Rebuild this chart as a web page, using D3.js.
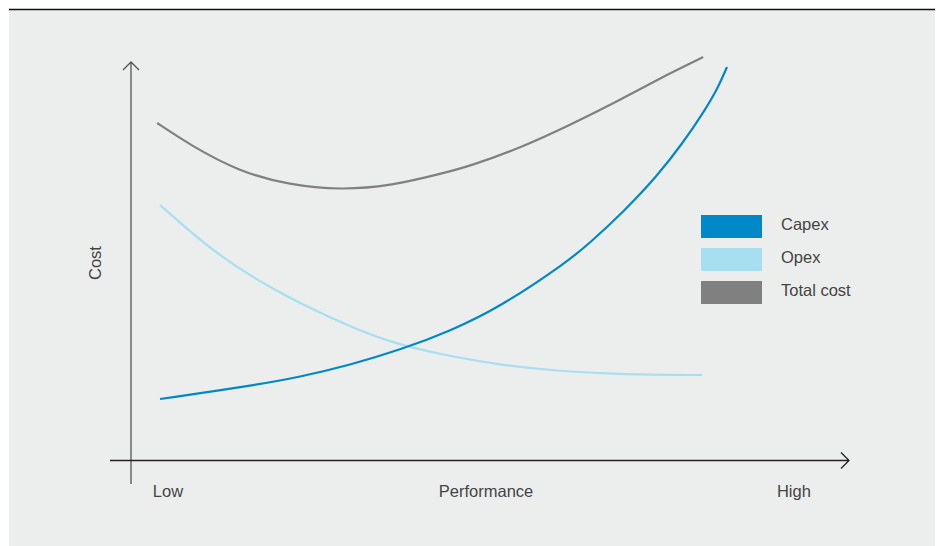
<!DOCTYPE html>
<html>
<head>
<meta charset="utf-8">
<script src="https://cdn.jsdelivr.net/npm/d3@7"></script>
<style>
  body { margin: 0; background: #fff; }
  text { font-family: "Liberation Sans", Arial, sans-serif; fill: #444; }
</style>
</head>
<body>
<script>
var width = 937,
    height = 546

// performance (0 = low, 100 = high) and cost (0..100, arbitrary units)
var capexPerf = [0, 15.9, 24.7, 33.5, 42.3, 51.2, 60, 71.8, 75.8, 81.7, 87.7, 92.2, 95.8, 98.4, 100];
var capex = [15.25, 18.5, 20.75, 23.75, 27.5, 32.25, 38.25, 49.5, 54.25, 62, 71, 79.25, 86.75, 93, 98.25];
var opexPerf = [0, 10, 20, 30, 40, 50, 60, 70, 80, 90, 95.6];
var opex = [63.75, 51.25, 42.5, 35.5, 29.5, 26.25, 23.75, 22.25, 21.5, 21.25, 21.25];
var totalPerf = [-0.5, 5.3, 14.1, 22.9, 31.8, 40.6, 49.4, 54.7, 63.5, 72.3, 81.1, 90, 95.8];
var total = [84.25, 78.75, 72, 68.75, 67.5, 68.5, 71.5, 73.5, 78, 83.75, 90, 96.75, 100.75];

var seriesNames = ["Capex", "Opex", "Total cost"];
var seriesColors = ["#0088c8", "#a8dff0", "#808080"];
var xLabels = ["Low", "Performance", "High"];
var xLabelPos = [1.4, 57.5, 111.8];

var svg = d3.select("body")
    .append("svg")
    .attr("width", width)
    .attr("height", height);

svg.append("rect")
    .attr("x", 9)
    .attr("y", 9)
    .attr("width", 926)
    .attr("height", height - 9)
    .attr("fill", "#eceeed");

svg.append("line")
    .attr("x1", 9).attr("x2", 935)
    .attr("y1", 9.5).attr("y2", 9.5)
    .attr("stroke", "#111")
    .attr("stroke-width", 1.3);

var x = d3.scaleLinear().domain([0, 100]).range([160, 727]);
var y = d3.scaleLinear().domain([0, 100]).range([460, 60]);

// axes
var axes = svg.append("g").attr("fill", "none");
axes.append("path")
    .attr("d", "M131,484V62M123,70L131,62L139,70")
    .attr("stroke", "#555")
    .attr("stroke-width", 1.3);
axes.append("path")
    .attr("d", "M110,460.5H849M841,452.5L849,460.5L841,468.5")
    .attr("stroke", "#222")
    .attr("stroke-width", 1.3);

var line = d3.line()
    .x(function(d) { return x(d[0]); })
    .y(function(d) { return y(d[1]); })
    .curve(d3.curveBasis);

var series = [
    d3.zip(totalPerf, total),
    d3.zip(opexPerf, opex),
    d3.zip(capexPerf, capex)
];
var order = [2, 1, 0];

svg.append("g")
    .selectAll("path")
    .data(series)
    .enter()
    .append("path")
    .attr("d", line)
    .attr("fill", "none")
    .attr("stroke", function(d, i) { return seriesColors[order[i]]; })
    .attr("stroke-width", 2.2);

// legend
var legend = svg.append("g").attr("transform", "translate(701,215)");
var item = legend.selectAll("g")
    .data(seriesNames)
    .enter()
    .append("g")
    .attr("transform", function(d, i) { return "translate(0," + (i * 33) + ")"; });
item.append("rect")
    .attr("width", 61)
    .attr("height", 23)
    .attr("fill", function(d, i) { return seriesColors[i]; });
item.append("text")
    .attr("x", 80)
    .attr("y", 14.5)
    .style("font-size", "16.5px")
    .text(function(d) { return d; });

// labels
svg.append("g")
    .selectAll("text")
    .data(xLabels)
    .enter()
    .append("text")
    .attr("x", function(d, i) { return x(xLabelPos[i]); })
    .attr("y", 497)
    .attr("text-anchor", "middle")
    .style("font-size", "16.5px")
    .text(function(d) { return d; });

svg.append("text")
    .attr("transform", "translate(101,263) rotate(-90)")
    .attr("text-anchor", "middle")
    .style("font-size", "16.5px")
    .text("Cost");
</script>
</body>
</html>
